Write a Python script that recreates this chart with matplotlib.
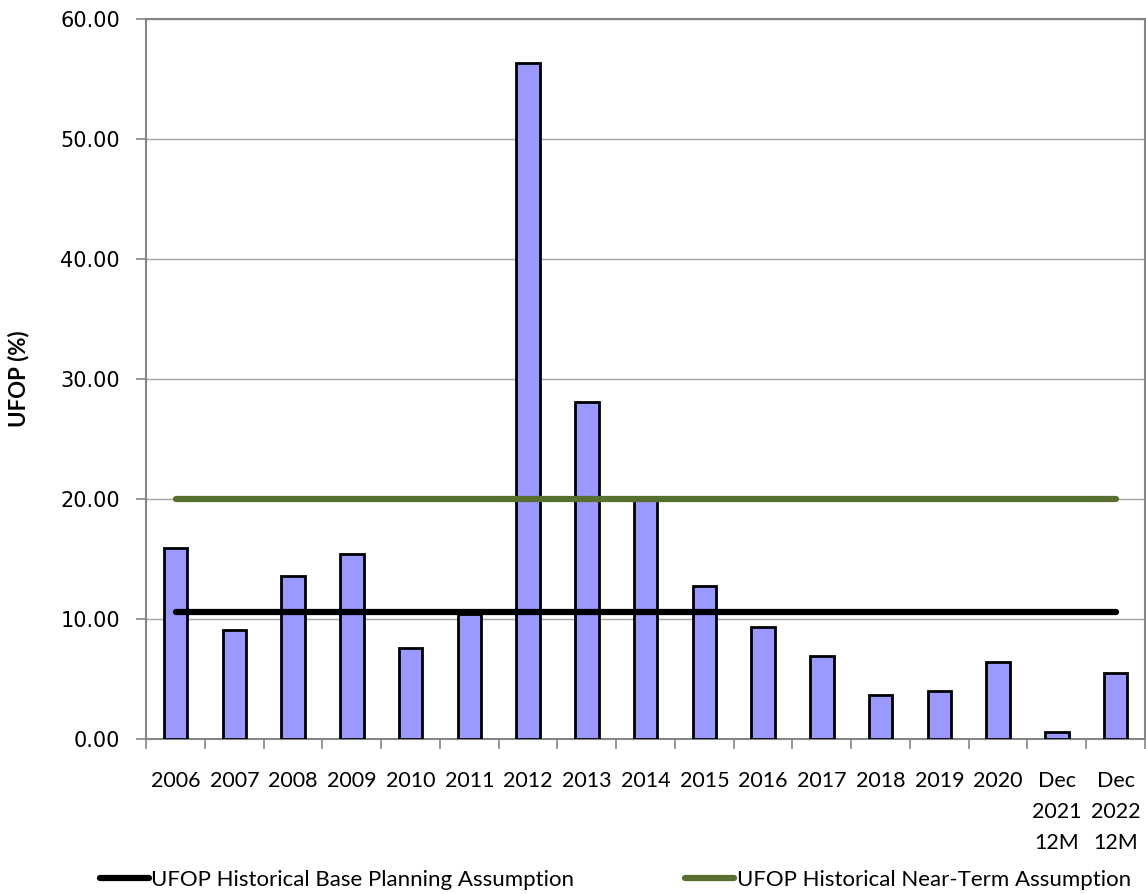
import numpy as np
import matplotlib
matplotlib.use("Agg")
import matplotlib.pyplot as plt
from matplotlib.ticker import FixedLocator, FormatStrFormatter

# UFOP by period
periods = ["2006", "2007", "2008", "2009", "2010", "2011", "2012", "2013", "2014",
           "2015", "2016", "2017", "2018", "2019", "2020", "Dec\n2021\n12M", "Dec\n2022\n12M"]
ufop = [15.9, 9.05, 13.6, 15.4, 7.6, 10.4, 56.3, 28.1, 19.95,
        12.75, 9.3, 6.95, 3.65, 4.0, 6.4, 0.6, 5.5]
base_assumption = 10.6
near_term_assumption = 20.0

BAR_COLOR = "#9999FF"
GREEN = "#58702F"
GRID = "#A6A6A6"
SPINE = "#868686"
LABEL_FONT = ["Lato", "DejaVu Sans"]

fig = plt.figure(figsize=(11.46, 8.94), dpi=100)
ax = fig.add_axes([0.1276, 0.1734, 0.8715, 0.8053])

x = np.arange(len(periods))
ax.bar(x, ufop, width=0.4, color=BAR_COLOR, edgecolor="black", linewidth=2, zorder=3)
ax.plot(x[[0, -1]], [base_assumption] * 2, color="black", lw=4.5,
        solid_capstyle="round", zorder=4, label="UFOP Historical Base Planning Assumption")
ax.plot(x[[0, -1]], [near_term_assumption] * 2, color=GREEN, lw=4.5,
        solid_capstyle="round", zorder=4, label="UFOP Historical Near-Term Assumption")

ax.set_xlim(-0.5, len(periods) - 0.5)
ax.set_ylim(0, 60)
ax.set_yticks(np.arange(0, 61, 10))
ax.yaxis.set_major_formatter(FormatStrFormatter("%.2f"))
ax.yaxis.grid(True, color=GRID, lw=1, zorder=0)
ax.tick_params(axis="y", labelsize=15, length=7, width=1.2, color=SPINE, pad=12)

# category labels centred, tick marks at category boundaries
ax.set_xticks(x)
ax.set_xticklabels(periods, fontsize=15.5, family=LABEL_FONT, linespacing=1.7)
ax.tick_params(axis="x", which="major", length=0, pad=23)
ax.xaxis.set_minor_locator(FixedLocator(np.arange(-0.5, len(periods), 1)))
ax.tick_params(axis="x", which="minor", length=7, width=1.2, color=SPINE)

for s in ax.spines.values():
    s.set_color(SPINE)
    s.set_linewidth(1.5)

ax.set_ylabel("UFOP (%)", fontsize=16, fontweight="bold", family=LABEL_FONT)
ax.yaxis.set_label_coords(-0.117, 0.5)

fig.legend(loc="center", bbox_to_anchor=(0.537, 0.0157), ncol=2, frameon=False,
           prop={"family": LABEL_FONT, "size": 16}, handlelength=2.2,
           handletextpad=0.1, columnspacing=5.0)

fig.savefig("out.png", dpi=100)
